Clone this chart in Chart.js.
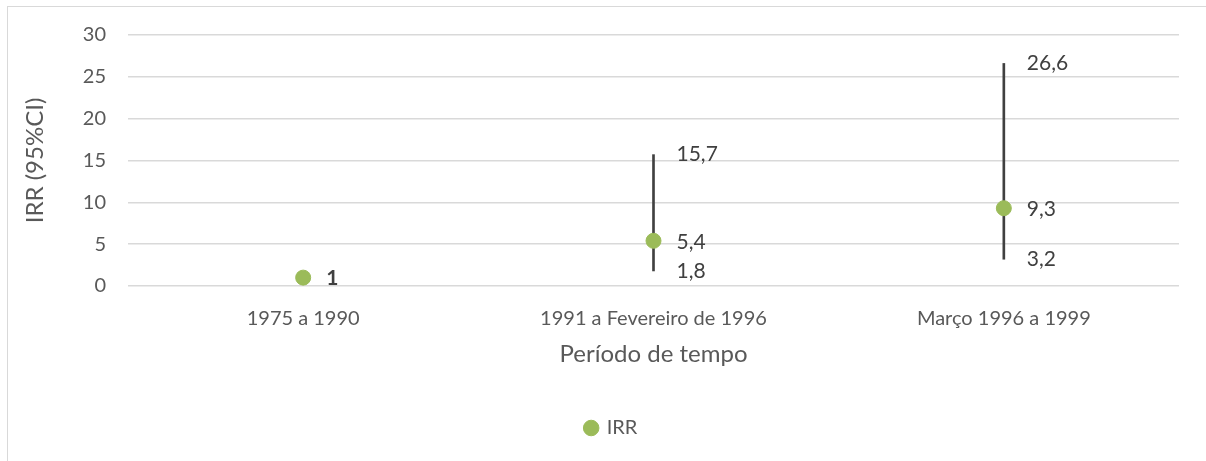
<!DOCTYPE html>
<html><head><meta charset="utf-8">
<script src="https://cdn.jsdelivr.net/npm/chart.js@4/dist/chart.umd.min.js"></script>
<style>
html,body{margin:0;padding:0;background:#fff;}
#wrap{position:relative;width:1206px;height:461px;}
#frame{position:absolute;left:7px;top:6px;width:1205px;height:470px;border:1px solid #d9d9d9;box-sizing:border-box;}
canvas{position:absolute;left:0;top:0;}
</style></head>
<body><div id="wrap"><div id="frame"></div><canvas id="c" width="1206" height="461"></canvas></div>
<script>
const categories = ["1975 a 1990", "1991 a Fevereiro de 1996", "Março 1996 a 1999"];
const irr = [1, 5.4, 9.3];
const ciLow = [null, 1.8, 3.2];
const ciHigh = [null, 15.7, 26.6];
const yTicks = [0, 5, 10, 15, 20, 25, 30];

const FONT = "Lato, 'Open Sans', sans-serif";
const fmt = v => String(v).replace('.', ',');

const labelPlugin = {
  id: 'vlabels',
  afterLayout(chart) {
    if (chart.legend) { chart.legend.left += 22; chart.legend.right += 22; }
  },
  afterDatasetsDraw(chart) {
    const ctx = chart.ctx;
    const xs = chart.scales.x, ys = chart.scales.y;
    ctx.save();
    ctx.fillStyle = '#404040';
    ctx.textBaseline = 'middle';
    ctx.textAlign = 'left';
    categories.forEach((c, i) => {
      const x = xs.getPixelForValue(i) + 23;
      ctx.font = (i === 0 ? 'bold ' : '') + '21px ' + FONT;
      ctx.fillText(fmt(irr[i]), x, ys.getPixelForValue(irr[i]) + 1);
      ctx.font = '21px ' + FONT;
      if (ciHigh[i] != null) ctx.fillText(fmt(ciHigh[i]), x, ys.getPixelForValue(ciHigh[i]));
      if (ciLow[i] != null) ctx.fillText(fmt(ciLow[i]), x, ys.getPixelForValue(ciLow[i]));
    });
    ctx.restore();
  }
};

new Chart(document.getElementById('c'), {
  type: 'bar',
  data: {
    labels: categories,
    datasets: [
      {
        type: 'line',
        label: 'IRR',
        data: irr,
        showLine: false,
        pointRadius: 7.5,
        pointHoverRadius: 7.5,
        pointBackgroundColor: '#9bbb59',
        pointBorderColor: '#9bbb59',
        backgroundColor: '#9bbb59',
        borderColor: '#9bbb59',
        pointStyle: 'circle',
        order: 0
      },
      {
        type: 'bar',
        label: 'CI',
        data: categories.map((c, i) => ciLow[i] == null ? null : [ciLow[i], ciHigh[i]]),
        backgroundColor: '#404040',
        borderWidth: 0,
        barThickness: 2,
        order: 1
      }
    ]
  },
  options: {
    responsive: false,
    animation: false,
    devicePixelRatio: 1,
    layout: { padding: { top: 35, right: 27, left: 0, bottom: 13 } },
    plugins: {
      legend: {
        position: 'bottom',
        labels: {
          filter: item => item.text === 'IRR',
          usePointStyle: true,
          pointStyle: 'circle',
          boxWidth: 11, boxHeight: 11,
          color: '#595959',
          font: { size: 20, family: FONT },
          padding: 9
        }
      },
      tooltip: { enabled: false }
    },
    scales: {
      x: {
        grid: { display: false },
        border: { display: false },
        ticks: { color: '#595959', font: { size: 20, family: FONT }, padding: 13 },
        title: { display: true, text: 'Período de tempo', color: '#595959', font: { size: 24, family: FONT }, padding: { top: 0, bottom: 40 } },
        afterFit: s => { s.height = 123; }
      },
      y: {
        min: 0, max: 30,
        afterBuildTicks: s => { s.ticks = yTicks.map(v => ({ value: v })); },
        grid: { color: '#d9d9d9', lineWidth: 1.5, drawTicks: false },
        border: { display: false },
        ticks: { color: '#595959', font: { size: 20, family: FONT }, padding: 22 },
        title: { display: true, text: 'IRR (95%CI)', color: '#595959', font: { size: 24, family: FONT }, padding: { top: 21, bottom: 0 } },
        afterFit: s => { s.width = 128; }
      }
    }
  },
  plugins: [labelPlugin]
});
</script></body></html>
